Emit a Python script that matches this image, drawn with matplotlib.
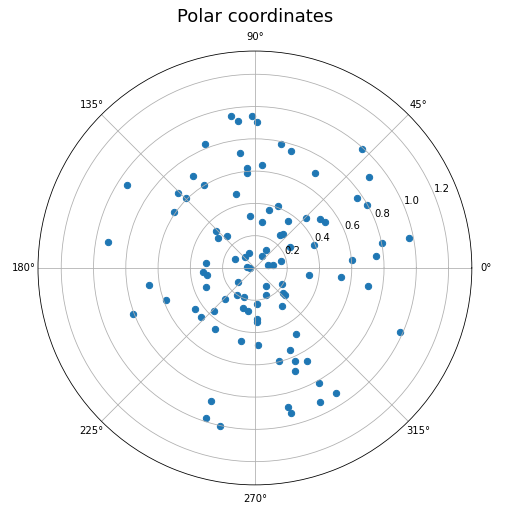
import numpy as np
import matplotlib
matplotlib.use("Agg")
import matplotlib.pyplot as plt

# angles in degrees, radii in data units
theta_deg = [
    98.9, 96.5, 91.1, 89.2, 111.9, 78.1, 72.7, 97.3, 47.8, 94.6,
    94.8, 85.9, 57.4, 38.6, 124.0, 146.8, 121.6, 135.5, 134.3, 104.3,
    34.2, 29.4, 145.5, 95.2, 69.3, 76.0, 81.1, 54.9, 44.1, 37.1,
    33.0, 169.8, 136.0, 141.1, 131.4, 52.6, 50.7, 11.1, 11.3, 21.5,
    31.2, 112.2, 132.5, 154.5, 59.1, 59.1, 173.7, 14.4, 15.0, 8.4,
    4.4, 5.4, 170.9, 180.0,
    184.4, 188.2, 201.9, 189.4, 199.6, 200.5, 214.3, 222.1, 226.4, 226.0,
    221.0, 236.9, 248.6, 253.5, 261.3, 273.5, 272.6, 271.8, 236.7, 259.2,
    272.6, 251.8, 252.0, 257.5, 353.1, 353.7, 351.2, 302.0, 330.2, 291.9,
    318.2, 317.7, 306.0, 302.1, 293.4, 284.7, 293.5, 299.4, 291.4, 299.3,
    303.1, 296.1, 283.5, 284.1, 336.4,
]
radius = [
    0.950, 0.914, 0.939, 0.904, 0.825, 0.782, 0.756, 0.715, 0.991, 0.622,
    0.591, 0.637, 0.695, 0.908, 0.691, 0.944, 0.600, 0.667, 0.610, 0.470,
    0.767, 0.800, 0.607, 0.322, 0.409, 0.367, 0.291, 0.359, 0.443, 0.508,
    0.520, 0.925, 0.334, 0.291, 0.260, 0.255, 0.274, 0.976, 0.805, 0.395,
    0.256, 0.099, 0.092, 0.135, 0.133, 0.088, 0.304, 0.167, 0.082, 0.115,
    0.603, 0.756, 0.047, 0.029,
    0.324, 0.303, 0.324, 0.665, 0.584, 0.806, 0.447, 0.449, 0.364, 0.264,
    0.137, 0.202, 0.190, 0.256, 0.267, 0.221, 0.314, 0.337, 0.449, 0.458,
    0.475, 0.866, 0.975, 1.001, 0.339, 0.537, 0.711, 0.129, 0.195, 0.183,
    0.231, 0.252, 0.288, 0.481, 0.552, 0.593, 0.626, 0.659, 0.684, 0.815,
    0.923, 0.922, 0.884, 0.925, 0.984,
]
r_ticks = [0.2, 0.4, 0.6, 0.8, 1.0, 1.2]
r_max = 1.344
title = "Polar coordinates"

fig = plt.figure(figsize=(508 / 72, 518 / 72), dpi=72)
ax = fig.add_axes([0.0748, 0.0637, 0.854, 0.838], projection="polar")
ax.scatter(np.deg2rad(theta_deg), radius, s=40, color="#1f77b4")
ax.set_rlim(0, r_max)
ax.set_rticks(r_ticks)
ax.tick_params(labelsize=10)
ax.grid(True, color="#b0b0b0", linewidth=0.8)
fig.text(255 / 508, 1 - 17 / 518, title, ha="center", va="center", fontsize=18)
fig.savefig("out.png", dpi=72)
